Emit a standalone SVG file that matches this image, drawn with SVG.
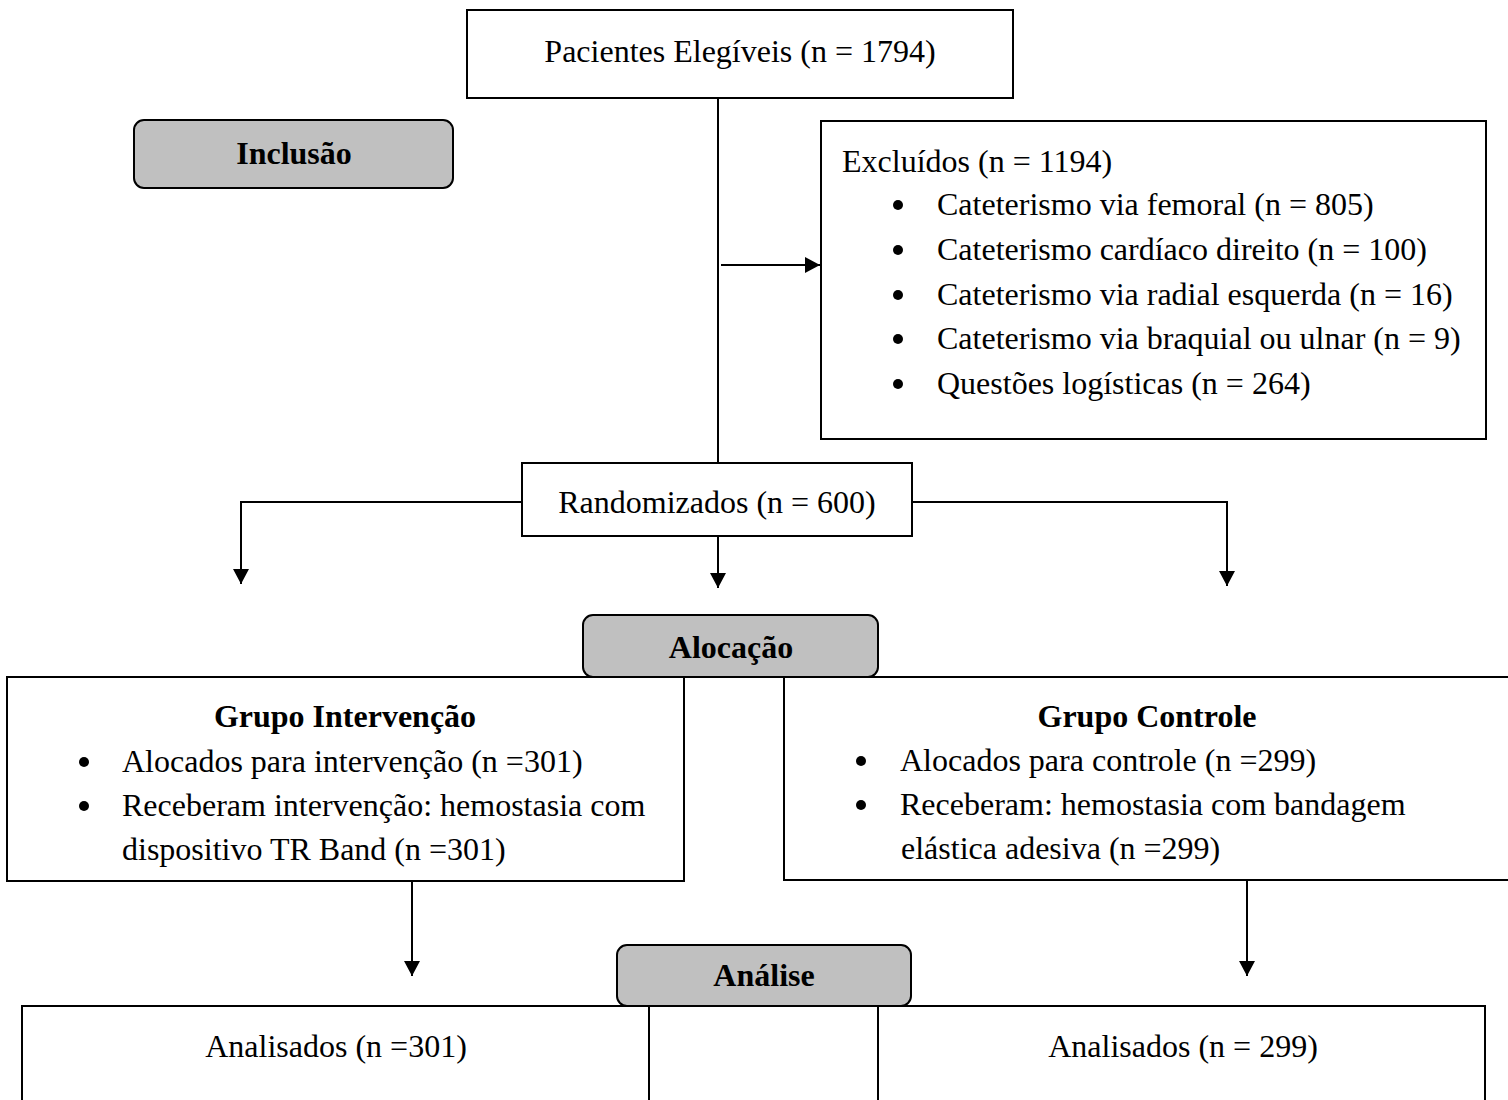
<svg xmlns="http://www.w3.org/2000/svg" width="1508" height="1100" viewBox="0 0 1508 1100">
<style>
  text { font-family: "Liberation Serif", "Times New Roman", serif; font-size: 32px; fill: #000; }
  .b { font-weight: bold; }
  .c { text-anchor: middle; }
  .box { fill: #fff; stroke: #000; stroke-width: 2; }
  .phase { fill: #c0c0c0; stroke: #000; stroke-width: 2; }
  .conn { fill: none; stroke: #000; stroke-width: 2; }
  .dot { fill: #000; }
</style>
<defs>
  <marker id="arr" markerUnits="userSpaceOnUse" markerWidth="16" markerHeight="16" refX="15" refY="8" orient="auto">
    <path d="M0,0 L15,8 L0,16 z" fill="#000"/>
  </marker>
</defs>
<rect width="1508" height="1100" fill="#fff"/>

<g id="connectors">
  <path class="conn" d="M718,98 V463"/>
  <path class="conn" d="M721,265 H820" marker-end="url(#arr)"/>
  <path class="conn" d="M522,502 H241 V584" marker-end="url(#arr)"/>
  <path class="conn" d="M718,536 V588" marker-end="url(#arr)"/>
  <path class="conn" d="M912,502 H1227 V586" marker-end="url(#arr)"/>
  <path class="conn" d="M412,881 V976" marker-end="url(#arr)"/>
  <path class="conn" d="M1247,880 V976" marker-end="url(#arr)"/>
</g>

<g id="eligible">
  <rect class="box" x="467" y="10" width="546" height="88"/>
  <text class="c" x="740" y="62">Pacientes Elegíveis (n = 1794)</text>
</g>

<g id="inclusao">
  <rect class="phase" x="134" y="120" width="319" height="68" rx="10"/>
  <text class="b c" x="294" y="164">Inclusão</text>
</g>

<g id="excluidos">
  <rect class="box" x="821" y="121" width="665" height="318"/>
  <text x="842" y="172">Excluídos (n = 1194)</text>
  <circle class="dot" cx="898" cy="205" r="5"/>
  <text x="937" y="215">Cateterismo via femoral (n = 805)</text>
  <circle class="dot" cx="898" cy="250" r="5"/>
  <text x="937" y="260">Cateterismo cardíaco direito (n = 100)</text>
  <circle class="dot" cx="898" cy="295" r="5"/>
  <text x="937" y="305">Cateterismo via radial esquerda (n = 16)</text>
  <circle class="dot" cx="898" cy="339" r="5"/>
  <text x="937" y="349">Cateterismo via braquial ou ulnar (n = 9)</text>
  <circle class="dot" cx="898" cy="384" r="5"/>
  <text x="937" y="394">Questões logísticas (n = 264)</text>
</g>

<g id="randomizados">
  <rect class="box" x="522" y="463" width="390" height="73"/>
  <text class="c" x="717" y="513">Randomizados (n = 600)</text>
</g>

<g id="intervencao">
  <rect class="box" x="7" y="677" width="677" height="204"/>
  <text class="b c" x="345" y="727">Grupo Intervenção</text>
  <circle class="dot" cx="84" cy="762" r="5"/>
  <text x="122" y="772">Alocados para intervenção (n =301)</text>
  <circle class="dot" cx="84" cy="806" r="5"/>
  <text x="122" y="816">Receberam intervenção: hemostasia com</text>
  <text x="122" y="860">dispositivo TR Band (n =301)</text>
</g>

<g id="controle">
  <rect class="box" x="784" y="677" width="740" height="203"/>
  <text class="b c" x="1147" y="727">Grupo Controle</text>
  <circle class="dot" cx="861" cy="761" r="5"/>
  <text x="900" y="771">Alocados para controle (n =299)</text>
  <circle class="dot" cx="861" cy="805" r="5"/>
  <text x="900" y="815">Receberam: hemostasia com bandagem</text>
  <text x="901" y="859">elástica adesiva (n =299)</text>
</g>

<g id="alocacao">
  <rect class="phase" x="583" y="615" width="295" height="62" rx="10"/>
  <text class="b c" x="731" y="658">Alocação</text>
</g>

<g id="analisados-intervencao">
  <rect class="box" x="22" y="1006" width="627" height="110"/>
  <text class="c" x="336" y="1057">Analisados (n =301)</text>
</g>

<g id="analisados-meio">
  <rect class="box" x="649" y="1006" width="229" height="110"/>
</g>

<g id="analisados-controle">
  <rect class="box" x="878" y="1006" width="607" height="110"/>
  <text class="c" x="1183" y="1057">Analisados (n = 299)</text>
</g>

<g id="analise">
  <rect class="phase" x="617" y="945" width="294" height="61" rx="10"/>
  <text class="b c" x="764" y="986">Análise</text>
</g>
</svg>
